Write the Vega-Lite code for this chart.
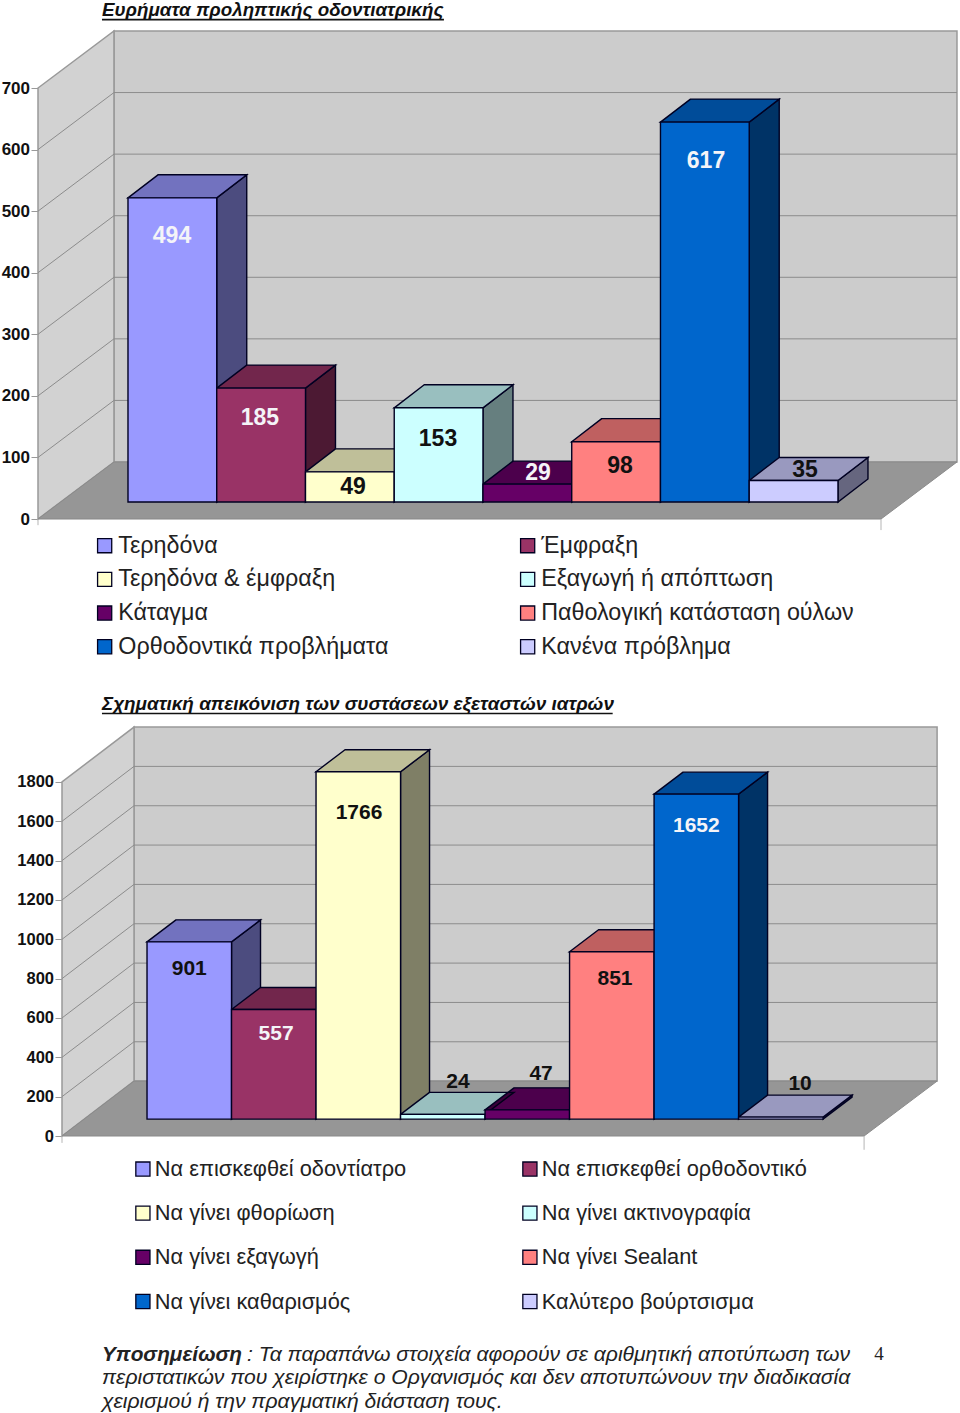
{
"$schema":"https://vega.github.io/schema/vega-lite/v6.json",
"padding":{"left":1,"top":1,"right":0,"bottom":0},
"autosize":{"type":"pad"},
"background":"white",
"spacing":0,
"bounds":"flush",
"resolve":{"scale":{"fill":"independent","x":"independent","y":"independent"},"legend":{"fill":"independent"}},
"config":{"view":{"stroke":null},"text":{"font":"Liberation Sans"},"axis":{"labelFont":"Liberation Sans"},"legend":{"labelFont":"Liberation Sans"}},
"datasets":{
"p1":[
{"i":0,"name":"Τερηδόνα","value":494},
{"i":1,"name":"Έμφραξη","value":185},
{"i":2,"name":"Τερηδόνα & έμφραξη","value":49},
{"i":3,"name":"Εξαγωγή ή απόπτωση","value":153},
{"i":4,"name":"Κάταγμα","value":29},
{"i":5,"name":"Παθολογική κατάσταση ούλων","value":98},
{"i":6,"name":"Ορθοδοντικά προβλήματα","value":617},
{"i":7,"name":"Κανένα πρόβλημα","value":35}],
"p2":[
{"i":0,"name":"Να επισκεφθεί οδοντίατρο","value":901},
{"i":1,"name":"Να επισκεφθεί ορθοδοντικό","value":557},
{"i":2,"name":"Να γίνει φθορίωση","value":1766},
{"i":3,"name":"Να γίνει ακτινογραφία","value":24},
{"i":4,"name":"Να γίνει εξαγωγή","value":47},
{"i":5,"name":"Να γίνει Sealant","value":851},
{"i":6,"name":"Να γίνει καθαρισμός","value":1652},
{"i":7,"name":"Καλύτερο βούρτσισμα","value":10}]
},
"vconcat":[
{
"width":922,"height":690,
"data":{"name":"p1"},
"encoding":{
"x":{"field":"xx","type":"quantitative","axis":null,"scale":{"domain":[-1.014,9.375],"nice":false,"zero":false}},
"y":{"field":"yy","type":"quantitative","scale":{"domain":[-279.3,841.3],"nice":false,"zero":false},
"axis":{"title":null,"values":[0,100,200,300,400,500,600,700],"format":"d","grid":false,"domain":false,"tickSize":7,"tickColor":"#999999","labelFont":"Liberation Sans","labelFontSize":17,"labelFontWeight":"bold","labelColor":"#111111","labelPadding":1.5,"labelFlush":false}}
},
"layer":[
{"data":{"values":[{"wall":"back"}]},"transform":[{"calculate":"-0.158","as":"xx"},{"calculate":"9.341","as":"xe"},{"calculate":"92.6","as":"yy"},{"calculate":"792.6","as":"ye"}],
"mark":{"type":"rect","fill":"#cccccc","stroke":"#999999","strokeWidth":1.5},"encoding":{"x2":{"field":"xe"},"y2":{"field":"ye"}}},
{"data":{"values":[{"t":0},{"t":1}]},"transform":[{"calculate":"-1.014+0.856*datum.t","as":"xx"},{"calculate":"92.6*datum.t","as":"yy"},{"calculate":"700+92.6*datum.t","as":"ye"}],
"mark":{"type":"area","fill":"#d2d2d2","stroke":"#999999","strokeWidth":1.5},"encoding":{"y2":{"field":"ye"}}},
{"data":{"values":[{"t":0},{"t":1}]},"transform":[{"calculate":"92.6*datum.t","as":"yy"},{"calculate":"-1.014+0.856*datum.t","as":"xx"},{"calculate":"8.485+0.856*datum.t","as":"xe"}],
"mark":{"type":"area","orient":"horizontal","fill":"#969696","stroke":"#8a8a8a","strokeWidth":1},"encoding":{"x2":{"field":"xe"}}},
{"data":{"values":[{"v":100,"t":0},{"v":100,"t":1},{"v":100,"t":2},{"v":200,"t":0},{"v":200,"t":1},{"v":200,"t":2},{"v":300,"t":0},{"v":300,"t":1},{"v":300,"t":2},{"v":400,"t":0},{"v":400,"t":1},{"v":400,"t":2},{"v":500,"t":0},{"v":500,"t":1},{"v":500,"t":2},{"v":600,"t":0},{"v":600,"t":1},{"v":600,"t":2}]},
"transform":[{"calculate":"[-1.014,-0.158,9.341][datum.t]","as":"xx"},{"calculate":"datum.v+(datum.t>0?92.6:0)","as":"yy"}],
"mark":{"type":"line","stroke":"#8c8c8c","strokeWidth":1},"encoding":{"detail":{"field":"v"}}},
{"data":{"values":[{"v":-1.014},{"v":8.485}]},"transform":[{"calculate":"datum.v","as":"xx"},{"calculate":"-(datum.v<0?10:18)","as":"yy"},{"calculate":"0","as":"ye"}],
"mark":{"type":"rule","stroke":"#b5b5b5","strokeWidth":1},"encoding":{"y2":{"field":"ye"}}},
{"transform":[{"calculate":"[0,1]","as":"t"},{"flatten":["t"]},{"calculate":"datum.i+1+0.338*datum.t","as":"xx"},{"calculate":"27.6+datum.value+37.4*datum.t","as":"yy"},{"calculate":"27.6+37.4*datum.t","as":"ye"}],
"mark":{"type":"area"},
"encoding":{"y2":{"field":"ye"},"detail":{"field":"name"},"fill":{"field":"name","type":"nominal","scale":{"domain":["Τερηδόνα","Έμφραξη","Τερηδόνα & έμφραξη","Εξαγωγή ή απόπτωση","Κάταγμα","Παθολογική κατάσταση ούλων","Ορθοδοντικά προβλήματα","Κανένα πρόβλημα"],"range":["#9999ff","#993366","#ffffcc","#ccffff","#660066","#ff8080","#0066cc","#ccccff"]},
"legend":{"title":null,"orient":"none","legendX":55,"legendY":533,"direction":"horizontal","columns":2,"columnPadding":127,"rowPadding":9.7,"symbolType":"square","symbolSize":200,"symbolStrokeColor":"#111133","symbolStrokeWidth":1.3,"symbolOpacity":1,"labelFontSize":23.3,"labelColor":"#222222","labelOffset":2,"labelLimit":400,"gridAlign":"each"}}}},
{"transform":[{"calculate":"[0,1]","as":"t"},{"flatten":["t"]},{"calculate":"datum.i+1+0.338*datum.t","as":"xx"},{"calculate":"27.6+datum.value+37.4*datum.t","as":"yy"},{"calculate":"27.6+37.4*datum.t","as":"ye"}],
"mark":{"type":"area","fill":"#000000","fillOpacity":0.5,"stroke":"#000022","strokeWidth":1.4},
"encoding":{"y2":{"field":"ye"},"detail":{"field":"name"}}},
{"transform":[{"calculate":"[0,1]","as":"t"},{"flatten":["t"]},{"calculate":"27.6+datum.value+37.4*datum.t","as":"yy"},{"calculate":"datum.i+0.338*datum.t","as":"xx"},{"calculate":"datum.i+1+0.338*datum.t","as":"xe"}],
"mark":{"type":"area","orient":"horizontal"},
"encoding":{"x2":{"field":"xe"},"detail":{"field":"name"},"fill":{"field":"name","type":"nominal"}}},
{"transform":[{"calculate":"[0,1]","as":"t"},{"flatten":["t"]},{"calculate":"27.6+datum.value+37.4*datum.t","as":"yy"},{"calculate":"datum.i+0.338*datum.t","as":"xx"},{"calculate":"datum.i+1+0.338*datum.t","as":"xe"}],
"mark":{"type":"area","orient":"horizontal","fill":"#000000","fillOpacity":0.25,"stroke":"#000022","strokeWidth":1.4},
"encoding":{"x2":{"field":"xe"},"detail":{"field":"name"}}},
{"transform":[{"calculate":"datum.i","as":"xx"},{"calculate":"datum.i+1","as":"xe"},{"calculate":"27.6+datum.value","as":"yy"},{"calculate":"27.6","as":"ye"}],
"mark":{"type":"rect","stroke":"#000022","strokeWidth":1.4},
"encoding":{"x2":{"field":"xe"},"y2":{"field":"ye"},"fill":{"field":"name","type":"nominal"}}},
{"transform":[{"calculate":"datum.i+0.5+[-0.004,-0.013,0.035,-0.007,0.12,0.044,0.013,0.128][datum.i]","as":"xx"},{"calculate":"24.6+datum.value+[-58.5,-45,-21,-47,21,-36,-60,20][datum.i]","as":"yy"}],
"mark":{"type":"text","fontSize":23,"fontWeight":"bold","baseline":"middle","align":"center"},
"encoding":{"text":{"field":"value","type":"quantitative","format":"d"},"color":{"condition":{"test":"indexof([0,1,4,6],datum.i)>=0","value":"#f4f4f8"},"value":"#111111"}}},
{"data":{"values":[{"label":"Ευρήματα προληπτικής οδοντιατρικής"}]},"transform":[{"calculate":"-0.293","as":"xx"},{"calculate":"826.5","as":"yy"}],
"mark":{"type":"text","font":"Liberation Sans","fontSize":18.8,"fontStyle":"italic","fontWeight":"bold","align":"left","baseline":"middle","color":"#111111"},
"encoding":{"text":{"field":"label"}}},
{"data":{"values":[{"label":"underline"}]},"transform":[{"calculate":"-0.293","as":"xx"},{"calculate":"3.56","as":"xe"},{"calculate":"811","as":"yy"}],
"mark":{"type":"rule","stroke":"#111111","strokeWidth":1.6},
"encoding":{"x2":{"field":"xe"}}}
]
},
{
"width":922,"height":723,
"data":{"name":"p2"},
"encoding":{
"x":{"field":"xx","type":"quantitative","axis":null,"scale":{"domain":[-1.29,9.62],"nice":false,"zero":false}},
"y":{"field":"yy","type":"quantitative","scale":{"domain":[-1413.3,2262.3],"nice":false,"zero":false},
"axis":{"title":null,"values":[0,200,400,600,800,1000,1200,1400,1600,1800],"format":"d","grid":false,"domain":false,"offset":-24,"tickSize":7,"tickColor":"#999999","labelFont":"Liberation Sans","labelFontSize":16.5,"labelFontWeight":"bold","labelColor":"#111111","labelPadding":1.5,"labelFlush":false}}
},
"layer":[
{"data":{"values":[{"wall":"back"}]},"transform":[{"calculate":"-0.154","as":"xx"},{"calculate":"9.349","as":"xe"},{"calculate":"279","as":"yy"},{"calculate":"2079","as":"ye"}],
"mark":{"type":"rect","fill":"#cccccc","stroke":"#999999","strokeWidth":1.5},"encoding":{"x2":{"field":"xe"},"y2":{"field":"ye"}}},
{"data":{"values":[{"t":0},{"t":1}]},"transform":[{"calculate":"-1.006+0.852*datum.t","as":"xx"},{"calculate":"279*datum.t","as":"yy"},{"calculate":"1800+279*datum.t","as":"ye"}],
"mark":{"type":"area","fill":"#d2d2d2","stroke":"#999999","strokeWidth":1.5},"encoding":{"y2":{"field":"ye"}}},
{"data":{"values":[{"t":0},{"t":1}]},"transform":[{"calculate":"279*datum.t","as":"yy"},{"calculate":"-1.006+0.852*datum.t","as":"xx"},{"calculate":"8.485+0.864*datum.t","as":"xe"}],
"mark":{"type":"area","orient":"horizontal","fill":"#969696","stroke":"#8a8a8a","strokeWidth":1},"encoding":{"x2":{"field":"xe"}}},
{"data":{"values":[{"v":200,"t":0},{"v":200,"t":1},{"v":200,"t":2},{"v":400,"t":0},{"v":400,"t":1},{"v":400,"t":2},{"v":600,"t":0},{"v":600,"t":1},{"v":600,"t":2},{"v":800,"t":0},{"v":800,"t":1},{"v":800,"t":2},{"v":1000,"t":0},{"v":1000,"t":1},{"v":1000,"t":2},{"v":1200,"t":0},{"v":1200,"t":1},{"v":1200,"t":2},{"v":1400,"t":0},{"v":1400,"t":1},{"v":1400,"t":2},{"v":1600,"t":0},{"v":1600,"t":1},{"v":1600,"t":2}]},
"transform":[{"calculate":"[-1.006,-0.154,9.349][datum.t]","as":"xx"},{"calculate":"datum.v+(datum.t>0?279:0)","as":"yy"}],
"mark":{"type":"line","stroke":"#8c8c8c","strokeWidth":1},"encoding":{"detail":{"field":"v"}}},
{"data":{"values":[{"v":-1.006},{"v":8.485}]},"transform":[{"calculate":"datum.v","as":"xx"},{"calculate":"-(datum.v<0?35:70)","as":"yy"},{"calculate":"0","as":"ye"}],
"mark":{"type":"rule","stroke":"#b5b5b5","strokeWidth":1},"encoding":{"y2":{"field":"ye"}}},
{"transform":[{"calculate":"[0,1]","as":"t"},{"flatten":["t"]},{"calculate":"datum.i+1+0.343*datum.t","as":"xx"},{"calculate":"86+datum.value+111.8*datum.t","as":"yy"},{"calculate":"86+111.8*datum.t","as":"ye"}],
"mark":{"type":"area"},
"encoding":{"y2":{"field":"ye"},"detail":{"field":"name"},"fill":{"field":"name","type":"nominal","scale":{"domain":["Να επισκεφθεί οδοντίατρο","Να επισκεφθεί ορθοδοντικό","Να γίνει φθορίωση","Να γίνει ακτινογραφία","Να γίνει εξαγωγή","Να γίνει Sealant","Να γίνει καθαρισμός","Καλύτερο βούρτσισμα"],"range":["#9999ff","#993366","#ffffcc","#ccffff","#660066","#ff8080","#0066cc","#ccccff"]},
"legend":{"title":null,"orient":"none","legendX":94,"legendY":467,"direction":"horizontal","columns":2,"columnPadding":112,"rowPadding":21.2,"symbolType":"square","symbolSize":200,"symbolStrokeColor":"#111133","symbolStrokeWidth":1.3,"symbolOpacity":1,"labelFontSize":21.8,"labelColor":"#222222","labelOffset":1,"labelLimit":400,"gridAlign":"each"}}}},
{"transform":[{"calculate":"[0,1]","as":"t"},{"flatten":["t"]},{"calculate":"datum.i+1+0.343*datum.t","as":"xx"},{"calculate":"86+datum.value+111.8*datum.t","as":"yy"},{"calculate":"86+111.8*datum.t","as":"ye"}],
"mark":{"type":"area","fill":"#000000","fillOpacity":0.5,"stroke":"#000022","strokeWidth":1.4},
"encoding":{"y2":{"field":"ye"},"detail":{"field":"name"}}},
{"transform":[{"calculate":"[0,1]","as":"t"},{"flatten":["t"]},{"calculate":"86+datum.value+111.8*datum.t","as":"yy"},{"calculate":"datum.i+0.343*datum.t","as":"xx"},{"calculate":"datum.i+1+0.343*datum.t","as":"xe"}],
"mark":{"type":"area","orient":"horizontal"},
"encoding":{"x2":{"field":"xe"},"detail":{"field":"name"},"fill":{"field":"name","type":"nominal"}}},
{"transform":[{"calculate":"[0,1]","as":"t"},{"flatten":["t"]},{"calculate":"86+datum.value+111.8*datum.t","as":"yy"},{"calculate":"datum.i+0.343*datum.t","as":"xx"},{"calculate":"datum.i+1+0.343*datum.t","as":"xe"}],
"mark":{"type":"area","orient":"horizontal","fill":"#000000","fillOpacity":0.25,"stroke":"#000022","strokeWidth":1.4},
"encoding":{"x2":{"field":"xe"},"detail":{"field":"name"}}},
{"transform":[{"calculate":"datum.i","as":"xx"},{"calculate":"datum.i+1","as":"xe"},{"calculate":"86+datum.value","as":"yy"},{"calculate":"86","as":"ye"}],
"mark":{"type":"rect","stroke":"#000022","strokeWidth":1.4},
"encoding":{"x2":{"field":"xe"},"y2":{"field":"ye"},"fill":{"field":"name","type":"nominal"}}},
{"transform":[{"calculate":"datum.i+0.5+[0,0.027,0.009,0.18,0.163,0.038,0,0.228][datum.i]","as":"xx"},{"calculate":"81.3+datum.value+[-132,-120,-205,169,187,-134,-158,173][datum.i]","as":"yy"}],
"mark":{"type":"text","fontSize":21,"fontWeight":"bold","baseline":"middle","align":"center"},
"encoding":{"text":{"field":"value","type":"quantitative","format":"d"},"color":{"condition":{"test":"indexof([1,6],datum.i)>=0","value":"#f4f4f8"},"value":"#111111"}}},
{"data":{"values":[{"label":"Σχηματική απεικόνιση των συστάσεων εξεταστών ιατρών"}]},"transform":[{"calculate":"-0.533","as":"xx"},{"calculate":"2196","as":"yy"}],
"mark":{"type":"text","font":"Liberation Sans","fontSize":18.9,"fontStyle":"italic","fontWeight":"bold","align":"left","baseline":"middle","color":"#111111"},
"encoding":{"text":{"field":"label"}}},
{"data":{"values":[{"label":"underline"}]},"transform":[{"calculate":"-0.533","as":"xx"},{"calculate":"5.51","as":"xe"},{"calculate":"2148","as":"yy"}],
"mark":{"type":"rule","stroke":"#111111","strokeWidth":1.6},
"encoding":{"x2":{"field":"xe"}}},
{"data":{"values":[{"label":"Υποσημείωση"}]},"transform":[{"calculate":"-0.533","as":"xx"},{"calculate":"-1113","as":"yy"}],
"mark":{"type":"text","font":"Liberation Sans","fontSize":20.8,"fontStyle":"italic","fontWeight":"bold","align":"left","baseline":"middle","color":"#222222"},
"encoding":{"text":{"field":"label"}}},
{"data":{"values":[{"label":": Τα παραπάνω στοιχεία αφορούν σε αριθμητική αποτύπωση των","line":0},{"label":"περιστατικών που χειρίστηκε ο Οργανισμός και δεν αποτυπώνουν την διαδικασία","line":1},{"label":"χειρισμού ή την πραγματική διάσταση τους.","line":2}]},
"transform":[{"calculate":"[1.183,-0.533,-0.533][datum.line]","as":"xx"},{"calculate":"[-1113,-1230,-1352][datum.line]","as":"yy"}],
"mark":{"type":"text","font":"Liberation Sans","fontSize":21.12,"fontStyle":"italic","align":"left","baseline":"middle","color":"#222222"},
"encoding":{"text":{"field":"label"}}},
{"data":{"values":[{"label":"4"}]},"transform":[{"calculate":"8.663","as":"xx"},{"calculate":"-1107","as":"yy"}],
"mark":{"type":"text","font":"Liberation Serif","fontSize":19,"align":"center","baseline":"middle","color":"#222222"},
"encoding":{"text":{"field":"label"}}}
]
}
]
}
